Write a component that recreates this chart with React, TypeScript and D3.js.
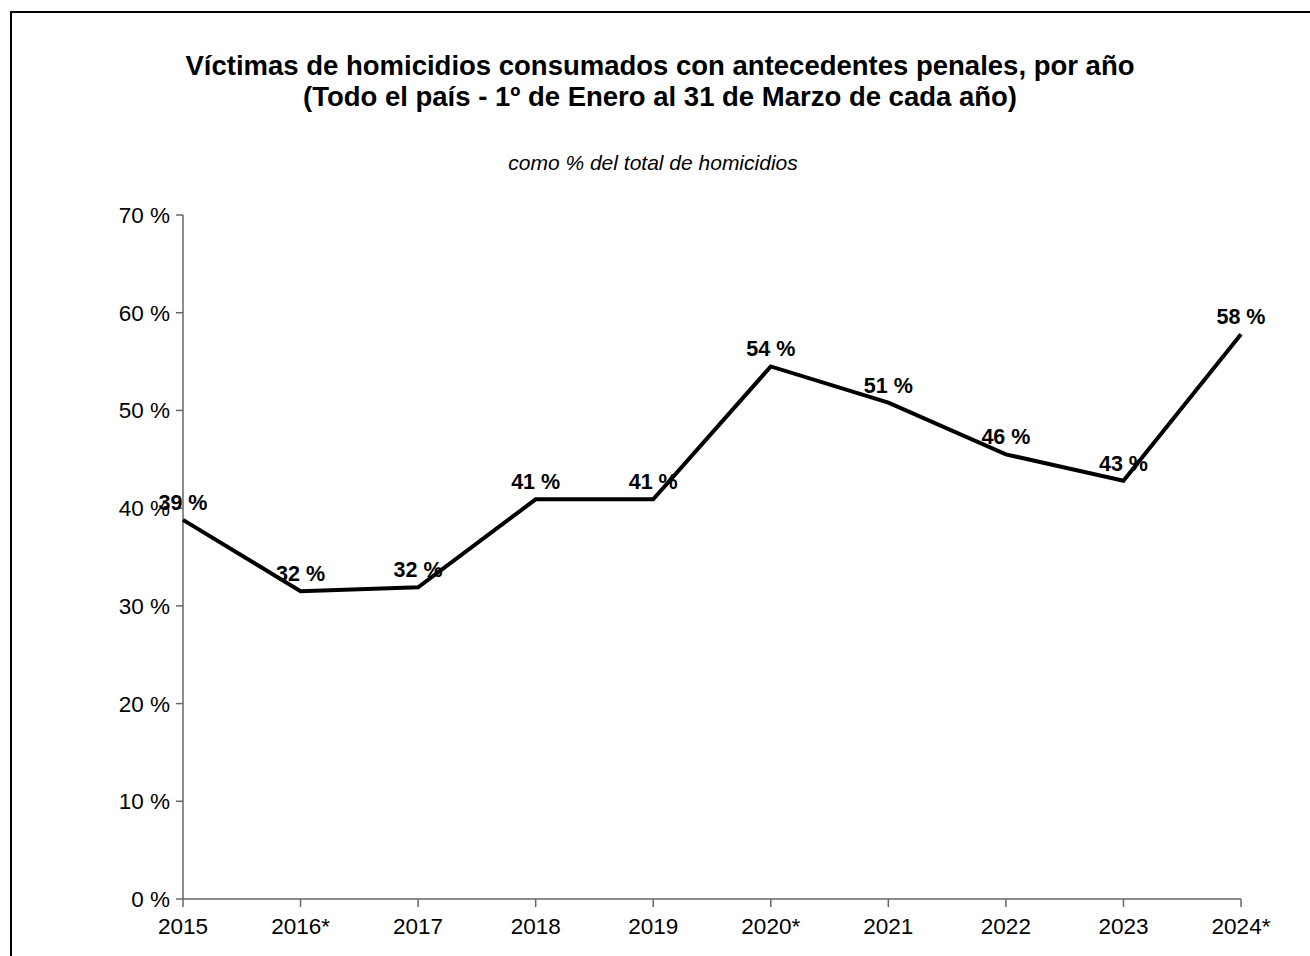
import React from "react";
import * as d3 from "d3";

const years = ["2015", "2016*", "2017", "2018", "2019", "2020*", "2021", "2022", "2023", "2024*"];
const values = [38.8, 31.5, 31.9, 40.9, 40.9, 54.5, 50.8, 45.5, 42.8, 57.8];
const labels = ["39 %", "32 %", "32 %", "41 %", "41 %", "54 %", "51 %", "46 %", "43 %", "58 %"];
const yTicks = [0, 10, 20, 30, 40, 50, 60, 70];

export default function App() {
  const W = 1310, H = 956;
  const left = 183, right = 1241, top = 215, bottom = 899;
  const x = d3.scalePoint<string>().domain(years).range([left, right]);
  const y = d3.scaleLinear().domain([0, 70]).range([bottom, top]);
  const line = d3.line<number>().x((_, i) => x(years[i])!).y((d) => y(d));
  const font = "Liberation Sans, Arial, sans-serif";
  return (
    <svg width={W} height={H} style={{ position: "absolute", left: 0, top: 0 }} fontFamily={font}>
      <rect x={0} y={0} width={W} height={H} fill="white" />
      <rect x={11} y={12} width={W + 20} height={H + 20} fill="none" stroke="black" strokeWidth={2} />
      <text x={660} y={75} textAnchor="middle" fontSize={27.5} fontWeight="bold">Víctimas de homicidios consumados con antecedentes penales, por año</text>
      <text x={660} y={106} textAnchor="middle" fontSize={27.5} fontWeight="bold">(Todo el país - 1º de Enero al 31 de Marzo de cada año)</text>
      <text x={653} y={170} textAnchor="middle" fontSize={21} fontStyle="italic">como % del total de homicidios</text>
      <line x1={left} x2={left} y1={top} y2={bottom} stroke="#666" strokeWidth={1.5} />
      <line x1={left} x2={right} y1={bottom} y2={bottom} stroke="#666" strokeWidth={1.5} />
      {yTicks.map((t) => (
        <g key={t}>
          <line x1={left - 7} x2={left} y1={y(t)} y2={y(t)} stroke="#666" strokeWidth={1.5} />
          <text x={left - 13} y={y(t) + 8} textAnchor="end" fontSize={22.5}>{t} %</text>
        </g>
      ))}
      {years.map((yr) => (
        <g key={yr}>
          <line x1={x(yr)} x2={x(yr)} y1={bottom} y2={bottom + 8} stroke="#666" strokeWidth={1.5} />
          <text x={x(yr)} y={934} textAnchor="middle" fontSize={22.5}>{yr}</text>
        </g>
      ))}
      <path d={line(values)!} fill="none" stroke="black" strokeWidth={4} strokeLinejoin="miter" />
      {values.map((v, i) => (
        <text key={i} x={x(years[i])!} y={y(v) - 10} textAnchor="middle" fontSize={21.5} fontWeight="bold">{labels[i]}</text>
      ))}
    </svg>
  );
}
